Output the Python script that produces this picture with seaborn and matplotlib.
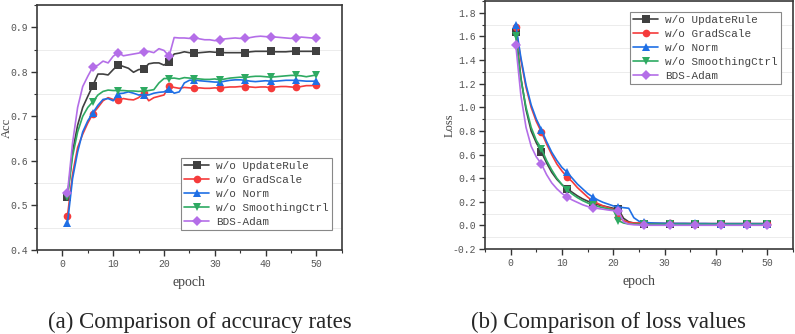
import seaborn as sns
import matplotlib.pyplot as plt
from matplotlib.ticker import MultipleLocator, FormatStrFormatter

sns.set_style('ticks')
plt.rcParams['font.family'] = ['Liberation Mono', 'DejaVu Sans']

epochs = list(range(1, 51))
names = ['w/o UpdateRule', 'w/o GradScale', 'w/o Norm', 'w/o SmoothingCtrl', 'BDS-Adam']

# accuracy per epoch
acc_update = [0.520, 0.620, 0.680, 0.720, 0.745, 0.769, 0.795, 0.795, 0.793, 0.805,
              0.816, 0.812, 0.808, 0.799, 0.805, 0.806, 0.818, 0.820, 0.820, 0.815,
              0.823, 0.840, 0.842, 0.845, 0.843, 0.842, 0.843, 0.844, 0.845, 0.844,
              0.844, 0.843, 0.843, 0.843, 0.843, 0.843, 0.845, 0.846, 0.846, 0.846,
              0.846, 0.845, 0.845, 0.845, 0.846, 0.846, 0.846, 0.846, 0.846, 0.846]
acc_grad = [0.476, 0.570, 0.630, 0.660, 0.685, 0.706, 0.720, 0.735, 0.742, 0.738,
            0.736, 0.740, 0.738, 0.737, 0.742, 0.752, 0.735, 0.742, 0.745, 0.748,
            0.768, 0.765, 0.763, 0.765, 0.764, 0.763, 0.764, 0.763, 0.763, 0.764,
            0.763, 0.765, 0.766, 0.766, 0.767, 0.767, 0.766, 0.765, 0.766, 0.766,
            0.764, 0.766, 0.767, 0.767, 0.766, 0.765, 0.767, 0.769, 0.769, 0.770]
acc_norm = [0.460, 0.560, 0.620, 0.665, 0.690, 0.708, 0.725, 0.738, 0.740, 0.735,
            0.751, 0.752, 0.755, 0.752, 0.748, 0.749, 0.748, 0.752, 0.754, 0.755,
            0.762, 0.752, 0.755, 0.775, 0.781, 0.782, 0.780, 0.779, 0.778, 0.777,
            0.777, 0.779, 0.781, 0.782, 0.782, 0.781, 0.779, 0.778, 0.779, 0.780,
            0.779, 0.779, 0.780, 0.781, 0.781, 0.781, 0.780, 0.779, 0.779, 0.779]
acc_smooth = [0.520, 0.610, 0.665, 0.700, 0.720, 0.733, 0.748, 0.756, 0.759, 0.758,
              0.758, 0.758, 0.757, 0.757, 0.756, 0.757, 0.758, 0.760, 0.775, 0.785,
              0.785, 0.786, 0.784, 0.787, 0.786, 0.785, 0.784, 0.783, 0.783, 0.784,
              0.782, 0.784, 0.786, 0.787, 0.788, 0.787, 0.789, 0.790, 0.790, 0.789,
              0.788, 0.789, 0.790, 0.791, 0.792, 0.792, 0.791, 0.789, 0.791, 0.793]
acc_bds = [0.528, 0.640, 0.720, 0.767, 0.790, 0.811, 0.815, 0.824, 0.820, 0.835,
           0.843, 0.836, 0.838, 0.840, 0.842, 0.845, 0.846, 0.843, 0.852, 0.848,
           0.835, 0.877, 0.876, 0.876, 0.875, 0.877, 0.874, 0.872, 0.872, 0.870,
           0.871, 0.874, 0.875, 0.876, 0.875, 0.875, 0.877, 0.879, 0.880, 0.879,
           0.879, 0.878, 0.877, 0.876, 0.875, 0.876, 0.878, 0.877, 0.876, 0.876]

# loss per epoch
loss_update = [1.64, 1.25, 0.98, 0.80, 0.70, 0.62, 0.53, 0.45, 0.39, 0.345,
               0.31, 0.28, 0.25, 0.225, 0.205, 0.19, 0.175, 0.165, 0.155, 0.145,
               0.135, 0.06, 0.03, 0.02, 0.017, 0.015, 0.013, 0.012, 0.012, 0.011,
               0.011, 0.011, 0.010, 0.010, 0.010, 0.010, 0.010, 0.010, 0.010, 0.010,
               0.010, 0.010, 0.010, 0.010, 0.010, 0.010, 0.010, 0.010, 0.010, 0.010]
loss_grad = [1.68, 1.40, 1.17, 1.00, 0.88, 0.79, 0.69, 0.60, 0.52, 0.46,
             0.41, 0.37, 0.32, 0.28, 0.24, 0.205, 0.185, 0.165, 0.15, 0.135,
             0.075, 0.04, 0.025, 0.02, 0.02, 0.02, 0.018, 0.018, 0.017, 0.017,
             0.017, 0.016, 0.016, 0.016, 0.016, 0.015, 0.015, 0.015, 0.015, 0.015,
             0.015, 0.015, 0.015, 0.015, 0.015, 0.015, 0.015, 0.015, 0.015, 0.015]
loss_norm = [1.70, 1.42, 1.19, 1.02, 0.90, 0.81, 0.71, 0.62, 0.55, 0.49,
             0.45, 0.40, 0.35, 0.31, 0.27, 0.24, 0.215, 0.195, 0.18, 0.165,
             0.155, 0.15, 0.145, 0.065, 0.035, 0.03, 0.022, 0.02, 0.019, 0.018,
             0.018, 0.017, 0.017, 0.017, 0.016, 0.016, 0.016, 0.016, 0.015, 0.015,
             0.015, 0.015, 0.015, 0.015, 0.015, 0.015, 0.015, 0.015, 0.015, 0.015]
loss_smooth = [1.60, 1.24, 1.00, 0.83, 0.72, 0.65, 0.55, 0.47, 0.40, 0.345,
               0.30, 0.265, 0.235, 0.21, 0.19, 0.17, 0.16, 0.15, 0.14, 0.13,
               0.04, 0.02, 0.012, 0.010, 0.010, 0.010, 0.010, 0.010, 0.010, 0.010,
               0.010, 0.010, 0.010, 0.010, 0.010, 0.010, 0.010, 0.010, 0.010, 0.010,
               0.010, 0.010, 0.010, 0.010, 0.010, 0.010, 0.010, 0.010, 0.010, 0.010]
loss_bds = [1.53, 1.10, 0.83, 0.67, 0.58, 0.52, 0.43, 0.36, 0.31, 0.27,
            0.24, 0.215, 0.195, 0.175, 0.16, 0.15, 0.143, 0.137, 0.13, 0.125,
            0.118, 0.03, 0.01, 0.005, 0.003, 0.002, 0.001, 0.001, 0.001, 0.001,
            0.001, 0.001, 0.001, 0.001, 0.001, 0.001, 0.001, 0.001, 0.001, 0.001,
            0.001, 0.001, 0.001, 0.001, 0.001, 0.001, 0.001, 0.001, 0.001, 0.001]

acc_series = [acc_update, acc_grad, acc_norm, acc_smooth, acc_bds]
loss_series = [loss_update, loss_grad, loss_norm, loss_smooth, loss_bds]

colors = ['#404040', '#f53b3b', '#1f6fe5', '#2eaa62', '#b46ee8']
markers = ['s', 'o', '^', 'v', 'D']
mark_idx = [0, 5, 10, 15, 20, 25, 30, 35, 40, 45, 49]

fig = plt.figure(figsize=(7.95, 3.34), dpi=100)
ax1 = fig.add_axes([0.0465, 0.2515, 0.3835, 0.7335])
ax2 = fig.add_axes([0.610, 0.2545, 0.3875, 0.7425])


def draw(ax, series, ylim, ymajor, yminor, ylabel, label_x, legend_loc, bbox):
    for name, vals, c, m in zip(names, series, colors, markers):
        sns.lineplot(x=epochs, y=vals, ax=ax, color=c, marker=m, markevery=mark_idx,
                     markersize=5.5 if m != 'D' else 5, markeredgewidth=0,
                     linewidth=1.2, label=name)
    ax.set_xlim(-5, 55)
    ax.set_ylim(*ylim)
    ax.xaxis.set_major_locator(MultipleLocator(10))
    ax.xaxis.set_minor_locator(MultipleLocator(5))
    ax.yaxis.set_major_locator(MultipleLocator(ymajor))
    ax.yaxis.set_minor_locator(MultipleLocator(yminor))
    ax.yaxis.set_major_formatter(FormatStrFormatter('%.1f'))
    ax.grid(True, which='minor', axis='y', color='#ececec', linewidth=0.7, linestyle='-')
    ax.tick_params(which='major', direction='out', length=4, width=1, labelsize=7,
                   colors='#333333', labelcolor='#555555', pad=2.5)
    ax.tick_params(which='minor', direction='out', length=2.5, width=0.8, colors='#333333')
    for s in ax.spines.values():
        s.set_visible(True)
        s.set_color('#3a3a3a')
        s.set_linewidth(1.2)
    ax.set_xlabel('epoch', fontsize=10, family=['Liberation Serif'], color='#444444', labelpad=5)
    ax.set_ylabel(ylabel, fontsize=9, family=['Liberation Serif'], color='#444444')
    ax.yaxis.set_label_coords(label_x, 0.5)
    leg = ax.legend(loc=legend_loc, bbox_to_anchor=bbox, fontsize=7.9, frameon=True,
                    fancybox=False, edgecolor='#888888', framealpha=1, handlelength=2.3,
                    handletextpad=0.6, borderpad=0.3, labelspacing=0.35, borderaxespad=0)
    leg.get_frame().set_linewidth(0.8)
    for t in leg.get_texts():
        t.set_color('#444444')


draw(ax1, acc_series, (0.4, 0.95), 0.1, 0.05, 'Acc', -0.08, 'lower right', (0.967, 0.082))
draw(ax2, loss_series, (-0.2, 1.9), 0.2, 0.1, 'Loss', -0.096, 'upper right', (0.961, 0.956))

fig.text(0.2515, 0.018, '(a) Comparison of accuracy rates', ha='center', va='baseline',
         fontsize=16.5, family=['Liberation Serif'])
fig.text(0.766, 0.018, '(b) Comparison of loss values', ha='center', va='baseline',
         fontsize=16.5, family=['Liberation Serif'])

fig.savefig('out.png', dpi=100)
